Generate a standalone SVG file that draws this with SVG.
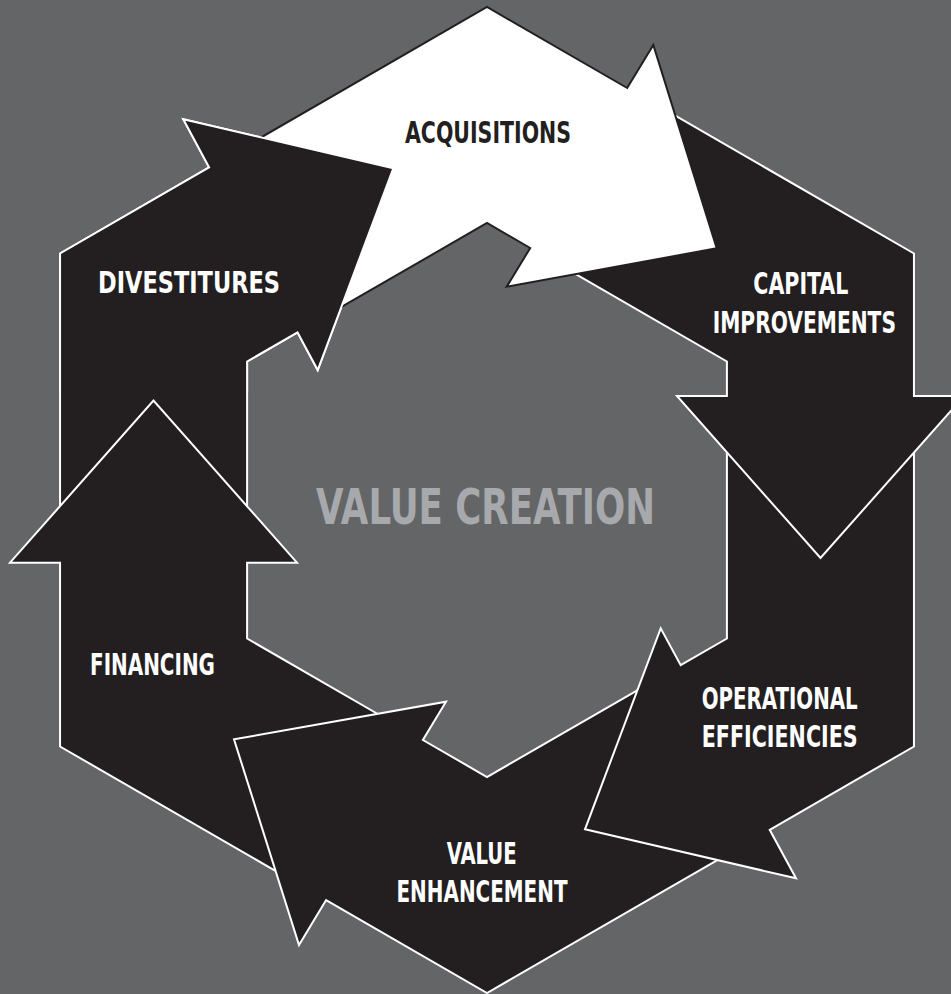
<svg xmlns="http://www.w3.org/2000/svg" width="951" height="994" viewBox="0 0 951 994">
  <style>
    .bg { fill: #646567; }
    .seg { fill: #231f20; stroke: #ffffff; stroke-width: 2; stroke-linejoin: miter; stroke-miterlimit: 10; }
    .seg-light { fill: #ffffff; stroke: #231f20; stroke-width: 2; stroke-linejoin: miter; stroke-miterlimit: 10; }
    .lbl { font-family: "Liberation Sans Narrow", "DejaVu Sans Condensed", "Liberation Sans", sans-serif; font-weight: 700; font-size: 30px; fill: #ffffff; }
    .lbl-dark { fill: #231f20; }
    .title { font-family: "Liberation Sans Narrow", "DejaVu Sans Condensed", "Liberation Sans", sans-serif; font-weight: 700; font-size: 49px; fill: #a7a9ac; }
  </style>
  <defs>
    <!-- upper-left area where the divestitures head sits over the acquisitions tail -->
    <clipPath id="div-head-clip">
      <rect x="0" y="0" width="430" height="392"/>
    </clipPath>
  </defs>

  <rect class="bg" x="0" y="0" width="951" height="994"/>

  <!-- hexagonal cycle: each segment wraps one corner and ends in an arrowhead.
       Labels are set in a condensed face: scale(0.8,1) with textLength = width / 0.8 -->
  <g id="node-divestitures">
    <polygon class="seg" points="60.05,532.7 60.05,253.5 209.1,167.4 183.3,119.3 393.3,168.3 317.7,370 297.5,332.3 247.1,361.5 247.1,532.7"/>
    <text class="lbl" transform="translate(98,293.3) scale(0.8,1)" textLength="227.5" lengthAdjust="spacingAndGlyphs">DIVESTITURES</text>
  </g>

  <g id="node-financing">
    <polygon class="seg" points="301.6,886 60.05,746.5 60.05,562.7 10,562.7 153.5,400.5 297,562.7 247.1,562.7 247.1,638.5 395.1,724"/>
    <text class="lbl" transform="translate(90,674.5) scale(0.8,1)" textLength="156.25" lengthAdjust="spacingAndGlyphs">FINANCING</text>
  </g>

  <g id="node-value-enhancement">
    <polygon class="seg" points="745.5,843.8 487,993 326.1,900.1 299,945 234,739.3 446,701.7 422.9,740 487,777 652,681.8"/>
    <text class="lbl" transform="translate(446.7,863.5) scale(0.8,1)" textLength="87.5" lengthAdjust="spacingAndGlyphs">VALUE</text>
    <text class="lbl" transform="translate(396.5,901.7) scale(0.8,1)" textLength="213.75" lengthAdjust="spacingAndGlyphs">ENHANCEMENT</text>
  </g>

  <g id="node-operational-efficiencies">
    <polygon class="seg" points="913.95,426 913.95,746.5 769.7,829.8 796,878.3 585,829.3 660.7,628.3 680.7,665.2 726.9,638.5 726.9,426"/>
    <text class="lbl" transform="translate(701.7,708.5) scale(0.8,1)" textLength="195" lengthAdjust="spacingAndGlyphs">OPERATIONAL</text>
    <text class="lbl" transform="translate(701.7,746.5) scale(0.8,1)" textLength="195" lengthAdjust="spacingAndGlyphs">EFFICIENCIES</text>
  </g>

  <g id="node-capital-improvements">
    <polygon class="seg" points="651.1,101.7 913.95,253.5 913.95,396 964,396 820.5,558 677,396 726.9,396 726.9,361.5 557.6,263.7"/>
    <text class="lbl" transform="translate(753.3,294.3) scale(0.8,1)" textLength="118.75" lengthAdjust="spacingAndGlyphs">CAPITAL</text>
    <text class="lbl" transform="translate(712.7,333.3) scale(0.8,1)" textLength="229.1" lengthAdjust="spacingAndGlyphs">IMPROVEMENTS</text>
  </g>

  <g id="node-acquisitions">
    <polygon class="seg-light" points="228.5,156.2 487,7 627.2,88 653.3,45 716.7,248.3 506.7,286.7 530.2,248 487,223 322,318.2"/>
    <text class="lbl lbl-dark" transform="translate(405,143.3) scale(0.8,1)" textLength="207.5" lengthAdjust="spacingAndGlyphs">ACQUISITIONS</text>
  </g>

  <!-- closes the cycle: divestitures head lies over the acquisitions tail -->
  <use href="#node-divestitures" clip-path="url(#div-head-clip)"/>

  <g id="center-title">
    <text class="title" transform="translate(316,524.3) scale(0.8,1)" textLength="423.75" lengthAdjust="spacingAndGlyphs">VALUE CREATION</text>
  </g>
</svg>
